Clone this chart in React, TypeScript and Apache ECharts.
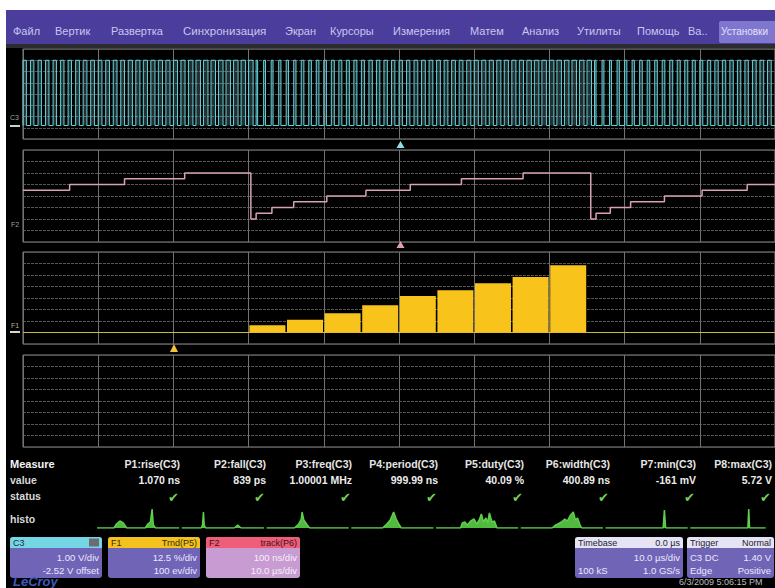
import React, { useEffect, useRef } from "react";
import * as echarts from "echarts";

// ---------------- data ----------------
const menuLabels = ["Файл", "Вертик", "Развертка", "Синхронизация", "Экран", "Курсоры", "Измерения", "Матем", "Анализ", "Утилиты", "Помощь", "Ва..", "Установки"];

// C3: pulse width (ns) of each 1 µs period across the 100 µs record
const cyanPulseWidthNs = [
  450, 450, 450, 450, 450, 450, 450,
  500, 500, 500, 500, 500, 500, 500,
  550, 550, 550, 550, 550, 550, 550, 550,
  600, 600, 600, 600, 600, 600, 600, 600, 600,
  200,
  250, 250,
  300, 300, 300,
  350, 350, 350, 350,
  400, 400, 400, 400, 400,
  450, 450, 450, 450, 450, 450,
  500, 500, 500, 500, 500, 500, 500,
  550, 550, 550, 550, 550, 550, 550, 550,
  600, 600, 600, 600, 600, 600, 600, 600, 600,
  200,
  250, 250,
  300, 300, 300,
  350, 350, 350, 350,
  400, 400, 400, 400, 400,
  450, 450, 450, 450, 450, 450,
  500, 500, 500,
];
const cyanPeriodUs = 1;
const cyanLevelsDiv = [1.2, 7.0]; // low, high (divisions from panel bottom)

// F2 track(P6): step start time (µs) and width value (ns)
const f2StepTimeUs = [0, 6.2, 13.5, 21.5, 30.3, 31.0, 33.1, 36.0, 40.4, 45.6, 51.5, 58.3, 66.5, 75.5, 76.2, 78.1, 80.8, 85.3, 90.3, 96.3, 100];
const f2StepWidthNs = [450, 500, 550, 600, 200, 250, 300, 350, 400, 450, 500, 550, 600, 200, 250, 300, 350, 400, 450, 500, 500];

// F1 Trnd(P5): bar centres (µs) and heights (div)
const f1BarTimeUs = [32.5, 37.5, 42.5, 47.5, 52.5, 57.5, 62.5, 67.5, 72.5];
const f1BarHeight = [0.63, 1.1, 1.68, 2.37, 3.18, 3.68, 4.29, 4.83, 5.85];

// measurement table
const measureHeaders = ["P1:rise(C3)", "P2:fall(C3)", "P3:freq(C3)", "P4:period(C3)", "P5:duty(C3)", "P6:width(C3)", "P7:min(C3)", "P8:max(C3)"];
const measureValues = ["1.070 ns", "839 ps", "1.00001 MHz", "999.99 ns", "40.09 %", "400.89 ns", "-161 mV", "5.72 V"];
const rowLabels = ["Measure", "value", "status", "histo"];

// mini histograms: [position within cell (0..1), height]
const histo1 = [[0, 0], [0.2, 0], [0.23, 4], [0.27, 7], [0.31, 5], [0.35, 0], [0.57, 0], [0.6, 4], [0.63, 6], [0.65, 19], [0.665, 3], [0.69, 0], [0.97, 0]];
const histo2 = [[0, 0], [0.23, 0], [0.245, 3], [0.256, 16], [0.265, 3], [0.28, 0], [0.62, 0], [0.66, 3], [0.7, 0], [0.97, 0]];
const histo3 = [[0, 0], [0.33, 0], [0.38, 4], [0.41, 9], [0.42, 16], [0.44, 8], [0.48, 3], [0.51, 0], [0.97, 0]];
const histo4 = [[0, 0], [0.37, 0], [0.42, 4], [0.46, 8], [0.5, 16], [0.53, 9], [0.56, 4], [0.59, 0], [0.97, 0]];
const histo5 = [[0, 0], [0.29, 0], [0.31, 5], [0.34, 6], [0.37, 3], [0.41, 7], [0.45, 9], [0.48, 4], [0.51, 8], [0.535, 14], [0.56, 6], [0.59, 10], [0.61, 5], [0.63, 15], [0.66, 6], [0.69, 7], [0.72, 0], [0.97, 0]];
const histo6 = [[0, 0], [0.37, 0], [0.41, 3], [0.44, 4], [0.48, 6], [0.52, 9], [0.55, 7], [0.58, 12], [0.62, 16], [0.645, 8], [0.67, 10], [0.7, 3], [0.72, 0], [0.97, 0]];
const histo7 = [[0, 0], [0.68, 0], [0.695, 18], [0.71, 0], [0.97, 0]];
const histo8 = [[0, 0], [0.68, 0], [0.69, 19], [0.7, 0], [0.89, 0]];
const histograms = [histo1, histo2, histo3, histo4, histo5, histo6, histo7, histo8];

// bottom descriptor boxes
const boxC3 = { head: ["C3", ""], rows: [["", "1.00 V/div"], ["", "-2.52 V offset"]] };
const boxF1 = { head: ["F1", "Trnd(P5)"], rows: [["", "12.5 %/div"], ["", "100 ev/div"]] };
const boxF2 = { head: ["F2", "track(P6)"], rows: [["", "100 ns/div"], ["", "10.0 µs/div"]] };
const boxTimebase = { head: ["Timebase", "0.0 µs"], rows: [["", "10.0 µs/div"], ["100 kS", "1.0 GS/s"]] };
const boxTrigger = { head: ["Trigger", "Normal"], rows: [["C3 DC", "1.40 V"], ["Edge", "Positive"]] };
const dateText = "6/3/2009 5:06:15 PM";

// ---------------- layout / style ----------------
const FF = '"Liberation Sans", Arial, sans-serif';
const menuLayoutX = [13, 55, 111, 183, 285, 330, 393, 470, 522, 577, 637, 688, 721];
const panels = [
  { top: 49, height: 90 },
  { top: 150, height: 92 },
  { top: 252, height: 92 },
  { top: 355, height: 92 },
];

function txt(text: string, x: number, y: number, o: any = {}) {
  return {
    type: "text",
    silent: true,
    z: 20,
    style: {
      text,
      x,
      y,
      fill: o.fill || "#dddddd",
      font: o.font || `10px ${FF}`,
      textAlign: o.align || "left",
      textVerticalAlign: "middle",
    },
  };
}

function boxGraphics(b: any, x: number, w: number, headFill: string, bodyFill: string, headText: string, bodyText: string, icon = false) {
  const y = 537;
  const els: any[] = [
    { type: "rect", silent: true, z: 15, shape: { x, y, width: w, height: 41, r: 3 }, style: { fill: bodyFill } },
    { type: "rect", silent: true, z: 16, shape: { x, y, width: w, height: 11, r: [3, 3, 0, 0] }, style: { fill: headFill } },
    txt(b.head[0], x + 3, y + 6, { fill: headText, font: `9px ${FF}` }),
    txt(b.head[1], x + w - 3, y + 6, { fill: headText, font: `9px ${FF}`, align: "right" }),
  ];
  if (icon) {
    els.push({ type: "rect", silent: true, z: 17, shape: { x: x + w - 13, y: y + 1.5, width: 10, height: 8 }, style: { fill: "#6c6c74" } });
  }
  b.rows.forEach((r: string[], i: number) => {
    const ry = y + 20 + i * 13;
    els.push(txt(r[0], x + 3, ry, { fill: bodyText, font: `9.5px ${FF}` }));
    els.push(txt(r[1], x + w - 3, ry, { fill: bodyText, font: `9.5px ${FF}`, align: "right" }));
  });
  return els;
}

function buildOption() {
  // C3 square wave built from the per-period pulse widths
  const cyan: number[][] = [];
  cyanPulseWidthNs.forEach((w, i) => {
    const t0 = i * cyanPeriodUs;
    const t1 = t0 + w / 1000;
    cyan.push([t0, cyanLevelsDiv[0]], [t0, cyanLevelsDiv[1]], [t1, cyanLevelsDiv[1]], [t1, cyanLevelsDiv[0]]);
  });
  cyan.push([100, cyanLevelsDiv[0]]);

  const f2 = f2StepTimeUs.map((t, i) => [t, f2StepWidthNs[i]]);
  const f1 = f1BarTimeUs.map((t, i) => [t, f1BarHeight[i]]);

  const grids: any[] = panels.map((p) => ({
    left: 23,
    top: p.top,
    width: 755,
    height: p.height,
    show: true,
    borderColor: "#8a8a8a",
    borderWidth: 1,
    backgroundColor: "transparent",
  }));
  grids.push({ left: 97, top: 506, width: 688, height: 22, show: false });

  const yRanges = [
    [0, 8, 1],
    [0, 800, 100],
    [-1, 7, 1],
    [0, 8, 1],
  ];
  const xAxes: any[] = panels.map((_, gi) => ({
    type: "value",
    gridIndex: gi,
    min: 0,
    max: 100,
    interval: 10,
    axisLine: { show: false },
    axisTick: { show: false },
    axisLabel: { show: false },
    splitLine: { show: true, lineStyle: { color: "#727272", width: 1 } },
  }));
  xAxes.push({ type: "value", gridIndex: 4, min: 0, max: 8, show: false, splitLine: { show: false } });
  const yAxes: any[] = panels.map((_, gi) => ({
    type: "value",
    gridIndex: gi,
    min: yRanges[gi][0],
    max: yRanges[gi][1],
    interval: yRanges[gi][2],
    axisLine: { show: false },
    axisTick: { show: false },
    axisLabel: { show: false },
    splitLine: { show: true, lineStyle: { color: "#555555", width: 1, type: [3, 1] } },
  }));
  yAxes.push({ type: "value", gridIndex: 4, min: 0, max: 22, show: false, splitLine: { show: false } });

  const series: any[] = [
    {
      type: "line",
      xAxisIndex: 0,
      yAxisIndex: 0,
      data: cyan,
      symbol: "none",
      silent: true,
      lineStyle: { color: "#62d2da", width: 1 },
      areaStyle: { color: "rgba(128,170,176,0.4)", origin: cyanLevelsDiv[0] },
      z: 5,
    },
    {
      type: "line",
      xAxisIndex: 1,
      yAxisIndex: 1,
      data: f2,
      step: "end",
      symbol: "none",
      silent: true,
      lineStyle: { color: "#d8a2b0", width: 1.5 },
      z: 5,
    },
    {
      type: "line",
      xAxisIndex: 2,
      yAxisIndex: 2,
      data: [[0, 0], [100, 0]],
      symbol: "none",
      silent: true,
      lineStyle: { color: "#cdb843", width: 1 },
      z: 4,
    },
    {
      type: "bar",
      xAxisIndex: 2,
      yAxisIndex: 2,
      data: f1,
      barWidth: 36,
      silent: true,
      itemStyle: { color: "#f8c41c" },
      z: 5,
    },
  ];
  histograms.forEach((h, k) => {
    series.push({
      type: "line",
      xAxisIndex: 4,
      yAxisIndex: 4,
      data: h.map(([f, v]) => [k + f, v]),
      symbol: "none",
      silent: true,
      lineStyle: { color: "#5fcf4c", width: 1.5 },
      areaStyle: { color: "#55c243", opacity: 0.95 },
      z: 5,
    });
  });

  const g: any[] = [
    { type: "rect", silent: true, z: 30, shape: { x: 0, y: 0, width: 775, height: 10 }, style: { fill: "#ffffff" } },
    { type: "rect", silent: true, z: 30, shape: { x: 0, y: 0, width: 6, height: 588 }, style: { fill: "#ffffff" } },
    { type: "rect", silent: true, z: 10, shape: { x: 6, y: 10, width: 769, height: 34 }, style: { fill: "#4a3d9c" } },
    { type: "rect", silent: true, z: 11, shape: { x: 719, y: 21, width: 60, height: 22, r: 2 }, style: { fill: "#7f76cd" } },
    { type: "rect", silent: true, z: 10, shape: { x: 6, y: 44, width: 769, height: 4 }, style: { fill: "#2c2c30" } },
  ];
  menuLabels.forEach((m, i) => {
    const last = i === menuLabels.length - 1;
    g.push(txt(m, menuLayoutX[i], 31, { fill: last ? "#e4e2ff" : "#c9c6f0", font: `${last ? 10 : i === 3 ? 11.5 : 11}px ${FF}` }));
  });

  // channel labels at the left edge
  g.push(txt("C3", 10, 117, { fill: "#9aa0a8", font: `7px ${FF}` }));
  g.push({ type: "rect", silent: true, z: 20, shape: { x: 10, y: 125, width: 10, height: 2 }, style: { fill: "#c8d0d0" } });
  g.push(txt("F2", 11, 224, { fill: "#a89ca4", font: `7px ${FF}` }));
  g.push(txt("F1", 11, 325, { fill: "#b8b090", font: `7px ${FF}` }));
  g.push({ type: "rect", silent: true, z: 20, shape: { x: 10, y: 331, width: 10, height: 2 }, style: { fill: "#d8d8c8" } });

  // trigger / position markers
  g.push({ type: "polygon", silent: true, z: 20, shape: { points: [[400.5, 141], [396.5, 148], [404.5, 148]] }, style: { fill: "#8fdde4" } });
  g.push({ type: "polygon", silent: true, z: 20, shape: { points: [[400.5, 241], [396.5, 248], [404.5, 248]] }, style: { fill: "#e0a0b4" } });
  g.push({ type: "polygon", silent: true, z: 20, shape: { points: [[174, 344], [170, 352], [178, 352]] }, style: { fill: "#f2c23a" } });

  // measurement table
  const rowY = [464, 480, 496, 519];
  rowLabels.forEach((r, i) => {
    g.push(txt(r, 10, rowY[i], { fill: i === 0 ? "#f4f4f4" : "#d8d8d8", font: `bold ${i === 0 ? 11 : 10.5}px ${FF}` }));
  });
  measureHeaders.forEach((h, k) => {
    const xr = Math.min(180 + 86 * k, 772);
    g.push(txt(h, xr, rowY[0], { fill: "#e6e6e6", font: `bold 10.5px ${FF}`, align: "right" }));
    g.push(txt(measureValues[k], xr, rowY[1], { fill: "#ececec", font: `bold 10.5px ${FF}`, align: "right" }));
    g.push(txt("✔", xr - 1, rowY[2] + 1, { fill: "#74cf57", font: `bold 13px "DejaVu Sans", sans-serif`, align: "right" }));
  });

  // descriptor boxes
  g.push(...boxGraphics(boxC3, 10, 92, "#74d6e4", "#6f64b6", "#2a2a3a", "#ece8ff", true));
  g.push(...boxGraphics(boxF1, 108, 92, "#f3c21c", "#6f64b6", "#3a2a10", "#ece8ff"));
  g.push(...boxGraphics(boxF2, 206, 94, "#ef5d79", "#c99bd3", "#3a1420", "#f6eefa"));
  g.push(...boxGraphics(boxTimebase, 575, 108, "#e6e4f4", "#6f64b6", "#222233", "#ece8ff"));
  g.push(...boxGraphics(boxTrigger, 687, 87, "#e6e4f4", "#6f64b6", "#222233", "#ece8ff"));

  g.push(txt("LeCroy", 13, 581, { fill: "#3d5bbd", font: `italic bold 13px ${FF}` }));
  g.push(txt(dateText, 679, 582, { fill: "#bdbdbd", font: `9px ${FF}` }));

  return {
    animation: false,
    backgroundColor: "#000000",
    grid: grids,
    xAxis: xAxes,
    yAxis: yAxes,
    series,
    graphic: { elements: g },
  };
}

export default function App() {
  const ref = useRef<HTMLDivElement>(null);
  useEffect(() => {
    if (!ref.current) return;
    const chart = echarts.init(ref.current, null, { renderer: "svg" });
    chart.setOption(buildOption() as any);
    return () => chart.dispose();
  }, []);
  return (
    <div
      ref={ref}
      style={{ position: "fixed", left: 0, top: 0, width: 775, height: 588, background: "#000" }}
    />
  );
}
